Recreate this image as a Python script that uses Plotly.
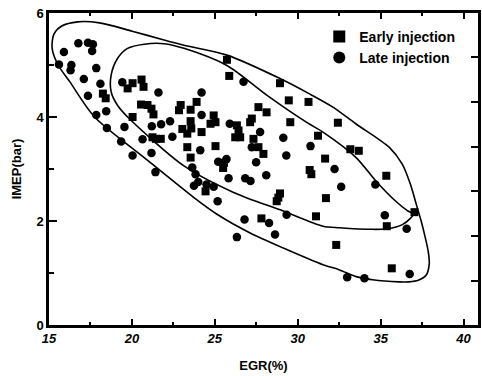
import plotly.graph_objects as go

# ---- data ----
early_x = [20.04, 20.58, 20.70, 19.74, 20.55, 20.94, 21.18, 21.30, 20.04, 22.94, 22.84, 23.54, 23.54,
           21.24, 21.44, 21.74, 23.04, 23.34, 23.58, 23.34, 23.54, 23.90, 24.20, 24.74, 25.04, 24.93,
           25.04, 25.73, 25.87, 26.33, 26.43, 26.53, 26.23, 27.23, 27.13, 27.33, 27.63, 27.93, 27.63,
           28.12, 28.93, 29.46, 29.55, 30.65, 31.22, 31.65, 30.72, 30.82, 32.42, 33.17, 33.68, 35.34,
           24.44, 27.81, 28.73, 28.83, 28.93, 31.10, 31.70, 32.32, 35.67, 35.37, 37.04, 25.55, 25.50,
           18.25, 18.42]
early_y = [4.65, 4.72, 4.58, 4.55, 4.24, 4.23, 4.16, 4.05, 4.00, 4.23, 4.13, 4.14, 3.92,
           3.61, 3.58, 3.58, 3.77, 3.68, 3.78, 3.42, 3.22, 4.29, 3.71, 3.87, 3.90, 4.03,
           3.44, 5.10, 4.79, 3.84, 3.74, 3.61, 3.61, 3.97, 3.90, 3.58, 3.42, 3.29, 4.19,
           4.09, 4.65, 4.32, 3.90, 4.29, 3.64, 3.20, 2.98, 2.90, 3.89, 3.38, 3.35, 2.87,
           2.57, 2.05, 2.38, 2.45, 2.53, 2.09, 2.44, 1.54, 1.09, 1.90, 2.17, 3.12, 3.02,
           4.45, 4.36]

late_x = [15.60, 15.90, 16.35, 16.30, 16.77, 17.35, 17.65, 17.60, 17.85, 17.10, 18.10, 17.35, 18.45,
          17.85, 18.49, 19.35, 19.55, 20.04, 20.64, 21.18, 21.42, 21.60, 19.42, 21.20, 21.76, 22.30,
          22.44, 24.20, 24.20, 24.12, 25.90, 27.73, 27.23, 27.49, 29.13, 29.31, 30.77, 32.22, 32.62,
          34.68, 25.83, 26.83, 27.15, 28.10, 23.64, 23.84, 24.00, 23.74, 24.50, 24.93, 25.17, 26.33,
          26.79, 28.27, 28.63, 29.33, 32.98, 34.02, 36.75, 35.25, 36.57, 25.20, 25.70, 26.73]
late_y = [5.01, 5.25, 5.00, 4.90, 5.42, 5.43, 5.40, 5.27, 4.94, 4.73, 4.64, 4.41, 4.11,
          4.04, 3.79, 3.53, 3.81, 3.26, 3.57, 3.31, 2.94, 4.47, 4.67, 3.82, 3.86, 3.92,
          3.62, 4.47, 4.04, 3.36, 3.87, 3.71, 3.42, 3.13, 3.60, 3.26, 3.44, 3.00, 2.66,
          2.70, 2.82, 2.82, 2.77, 2.88, 3.03, 2.90, 2.75, 2.68, 2.70, 2.66, 2.38, 1.69,
          2.03, 1.96, 1.74, 2.12, 0.92, 0.90, 0.98, 2.11, 1.85, 3.14, 3.19, 4.68]

# outlines of the grouping curves (data units)
late_region_x = [20.02, 21.94, 23.14, 25.73, 28.93, 30.68, 32.12, 33.50, 35.51, 36.31, 36.79, 37.15,
                 37.45, 37.69, 37.87, 37.93, 37.75, 37.27, 36.71, 36.11, 34.51, 33.52, 32.52,
                 31.52, 29.13, 27.13, 25.13, 23.74, 20.74, 17.75, 16.25, 15.55, 15.19, 15.29, 15.77,
                 16.73, 18.05, 20.02]
late_region_y = [5.65, 5.48, 5.38, 5.19, 4.74, 4.45, 4.19, 3.87, 3.42, 3.09, 2.71, 2.32,
                 1.99, 1.68, 1.41, 1.18, 0.96, 0.86, 0.83, 0.83, 0.87, 0.93, 1.06,
                 1.16, 1.48, 1.77, 2.13, 2.45, 3.22, 4.00, 4.68, 5.00, 5.32, 5.59, 5.75,
                 5.83, 5.81, 5.65]

early_region_x = [25.73, 28.13, 30.52, 31.52, 33.52, 34.71, 35.91, 36.61, 36.97, 36.79, 36.31, 35.41,
                  34.51, 32.52, 31.52, 29.13, 26.13, 23.14, 19.74, 19.14, 18.75, 18.75, 19.14, 19.74,
                  20.74, 21.94, 23.14, 25.73]
early_region_y = [4.99, 4.42, 3.90, 3.71, 3.22, 2.77, 2.38, 2.20, 2.13, 2.05, 1.93, 1.85,
                  1.84, 1.87, 1.90, 2.19, 2.55, 3.06, 4.00, 4.22, 4.48, 4.81, 5.13, 5.32,
                  5.40, 5.41, 5.32, 4.99]

x_range = [15, 40.87]
y_range = [0, 6]

FONT = "Liberation Sans"

fig = go.Figure()

fig.add_trace(go.Scatter(x=late_region_x, y=late_region_y, mode="lines",
                         line=dict(color="black", width=1.6, shape="spline", smoothing=0.8),
                         showlegend=False, hoverinfo="skip"))
fig.add_trace(go.Scatter(x=early_region_x, y=early_region_y, mode="lines",
                         line=dict(color="black", width=1.6, shape="spline", smoothing=0.8),
                         showlegend=False, hoverinfo="skip"))

fig.add_trace(go.Scatter(x=early_x, y=early_y, mode="markers", name="Early injection",
                         marker=dict(symbol="square", size=8, color="black")))
fig.add_trace(go.Scatter(x=late_x, y=late_y, mode="markers", name="Late injection",
                         marker=dict(symbol="circle", size=8.5, color="black")))

# right-hand frame (carries its own tick marks in the original)
fig.add_trace(go.Scatter(x=[None], y=[None], yaxis="y2", showlegend=False, hoverinfo="skip"))

fig.update_layout(
    width=482, height=376,
    margin=dict(l=49, r=1, t=13, b=51),
    paper_bgcolor="white", plot_bgcolor="white",
    font=dict(family=FONT, color="black"),
    showlegend=True,
    legend=dict(x=0.63, y=0.975, xanchor="left", yanchor="top",
                bgcolor="rgba(0,0,0,0)", borderwidth=0,
                font=dict(family=FONT, size=14, color="black", weight="bold"),
                itemsizing="constant", tracegroupgap=0),
    xaxis=dict(range=x_range, dtick=5, tick0=0, showgrid=False, zeroline=False,
               ticks="inside", ticklen=6, tickwidth=2, tickcolor="black",
               showline=True, linecolor="black", linewidth=2.5, mirror="ticks",
               tickfont=dict(family=FONT, size=13, color="black", weight="bold", style="italic"),
               minor=dict(dtick=2.5, tick0=0, ticks="inside", ticklen=3, tickwidth=1.5,
                          tickcolor="black"),
               title=dict(text="EGR(%)", standoff=16,
                          font=dict(family=FONT, size=13, color="black", weight="bold"))),
    yaxis=dict(range=y_range, dtick=2, tick0=0, showgrid=False, zeroline=False,
               ticks="inside", ticklen=8, tickwidth=2, tickcolor="black",
               showline=True, linecolor="black", linewidth=2.5, mirror=True,
               tickfont=dict(family=FONT, size=13, color="black", weight="bold"),
               minor=dict(dtick=1, tick0=0, ticks="inside", ticklen=5, tickwidth=1.5,
                          tickcolor="black"),
               title=dict(text="IMEP(bar)", standoff=12,
                          font=dict(family=FONT, size=13, color="black", weight="bold"))),
    yaxis2=dict(overlaying="y", side="right", range=y_range, tick0=0.85, dtick=0.86,
                showgrid=False, zeroline=False, showticklabels=False,
                ticks="inside", ticklen=7, tickwidth=2, tickcolor="black",
                showline=True, linecolor="black", linewidth=1.5),
)

fig.write_html("out.html")
